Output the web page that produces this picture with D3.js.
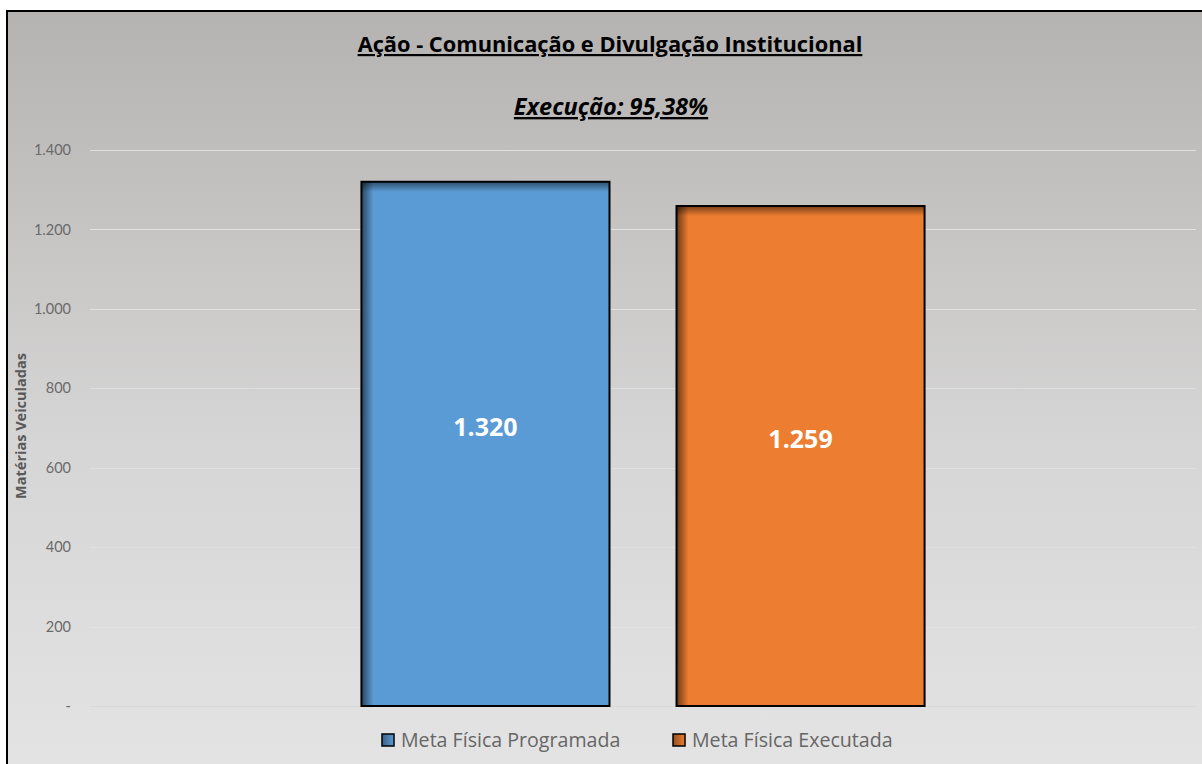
<!DOCTYPE html>
<html>
<head>
<meta charset="utf-8">
<script src="https://cdn.jsdelivr.net/npm/d3@7"></script>
<style>
  html, body { margin: 0; padding: 0; background: #ffffff; }
  svg { display: block; }
</style>
</head>
<body>
<svg id="chart" width="1202" height="764"></svg>
<script>
// Chart content
const titleText = "Ação - Comunicação e Divulgação Institucional";
const subtitleText = "Execução: 95,38%";
const axisTitle = "Matérias Veiculadas";
const category = ["Ação"];
const seriesNames = ["Meta Física Programada", "Meta Física Executada"];
const seriesValues = [1320, 1259];
const seriesColors = ["#5b9bd5", "#ed7d31"];
const tickValues = [0, 200, 400, 600, 800, 1000, 1200, 1400];

const fmt = v => v === 0 ? "-" : d3.format(",")(v).replace(/,/g, ".");

const svg = d3.select("#chart");
const defs = svg.append("defs");

// Chart area background: gray fading to light gray
const bg = defs.append("linearGradient").attr("id", "bgGrad")
  .attr("x1", 0).attr("y1", 0).attr("x2", 0).attr("y2", 1);
bg.append("stop").attr("offset", "0%").attr("stop-color", "#b4b3b1");
bg.append("stop").attr("offset", "55%").attr("stop-color", "#d6d5d5");
bg.append("stop").attr("offset", "100%").attr("stop-color", "#e4e4e4");

// Inner shading on bar edges
const shL = defs.append("linearGradient").attr("id", "shadeLeft")
  .attr("x1", 0).attr("y1", 0).attr("x2", 1).attr("y2", 0);
shL.append("stop").attr("offset", "0%").attr("stop-color", "#000").attr("stop-opacity", 0.55);
shL.append("stop").attr("offset", "100%").attr("stop-color", "#000").attr("stop-opacity", 0);
const shT = defs.append("linearGradient").attr("id", "shadeTop")
  .attr("x1", 0).attr("y1", 0).attr("x2", 0).attr("y2", 1);
shT.append("stop").attr("offset", "0%").attr("stop-color", "#000").attr("stop-opacity", 0.5);
shT.append("stop").attr("offset", "100%").attr("stop-color", "#000").attr("stop-opacity", 0);

const legGrads = seriesColors.map((c, i) => {
  const g = defs.append("linearGradient").attr("id", "leg" + i)
    .attr("x1", 0).attr("y1", 0).attr("x2", 1).attr("y2", 0);
  g.append("stop").attr("offset", "0%").attr("stop-color", d3.color(c).darker(1.3));
  g.append("stop").attr("offset", "100%").attr("stop-color", c);
  return "url(#leg" + i + ")";
});

// Frame
svg.append("rect").attr("x", 7).attr("y", 11).attr("width", 1202).attr("height", 770)
  .attr("fill", "url(#bgGrad)").attr("stroke", "#000").attr("stroke-width", 2);

const plot = { left: 90, right: 1196, top: 150, bottom: 706 };

const y = d3.scaleLinear().domain([0, 1400]).range([plot.bottom, plot.top]);
const x0 = d3.scaleBand().domain(category).range([plot.left, plot.right]).paddingInner(0).paddingOuter(0.482);
const x1 = d3.scaleBand().domain(seriesNames).range([0, x0.bandwidth()]).paddingInner(0.2127);

// Gridlines
const grid = svg.append("g");
grid.selectAll("line").data(tickValues).join("line")
  .attr("x1", plot.left).attr("x2", plot.right)
  .attr("y1", d => Math.round(y(d)) + 0.5).attr("y2", d => Math.round(y(d)) + 0.5)
  .attr("stroke", d => d === 0 ? "#d4d4d4" : "#e6e6e6")
  .attr("stroke-opacity", d => d >= 1000 ? 0.85 : 0.6)
  .attr("stroke-width", 1);

// Y axis labels
const yAxis = d3.axisLeft(y).tickValues(tickValues).tickFormat(fmt).tickSize(0).tickPadding(0);
const ya = svg.append("g").attr("transform", "translate(71,0)").call(yAxis);
ya.select(".domain").remove();
ya.selectAll("text")
  .attr("font-family", "Lato, 'Open Sans', sans-serif").attr("font-size", 14.5)
  .attr("fill", "#6a6a6a");

// Axis title
svg.append("text")
  .attr("transform", "translate(26,426) rotate(-90)")
  .attr("text-anchor", "middle")
  .attr("font-family", "'Open Sans', Lato, sans-serif").attr("font-size", 14.5)
  .attr("font-weight", "bold").attr("fill", "#595959")
  .text(axisTitle);

// Bars
const bars = svg.append("g").attr("transform", `translate(${x0(category[0])},0)`);
const g = bars.selectAll("g.bar").data(seriesNames.map((n, i) => ({ n, v: seriesValues[i], c: seriesColors[i] })))
  .join("g").attr("class", "bar");
g.append("rect")
  .attr("x", d => x1(d.n)).attr("y", d => y(d.v))
  .attr("width", x1.bandwidth()).attr("height", d => y(0) - y(d.v))
  .attr("fill", d => d.c);
g.append("rect")
  .attr("x", d => x1(d.n)).attr("y", d => y(d.v))
  .attr("width", 12).attr("height", d => y(0) - y(d.v))
  .attr("fill", "url(#shadeLeft)");
g.append("rect")
  .attr("x", d => x1(d.n)).attr("y", d => y(d.v))
  .attr("width", x1.bandwidth()).attr("height", 10)
  .attr("fill", "url(#shadeTop)");
g.append("rect")
  .attr("x", d => x1(d.n)).attr("y", d => y(d.v))
  .attr("width", x1.bandwidth()).attr("height", d => y(0) - y(d.v))
  .attr("fill", "none").attr("stroke", "#000").attr("stroke-width", 2);

// Value labels
g.append("text")
  .attr("x", d => x1(d.n) + x1.bandwidth() / 2)
  .attr("y", d => y(d.v / 2) - 17)
  .attr("dy", "0.35em")
  .attr("text-anchor", "middle")
  .attr("font-family", "'Open Sans', Lato, sans-serif").attr("font-size", 25)
  .attr("font-weight", "bold").attr("fill", "#ffffff")
  .text(d => fmt(d.v));

// Titles
svg.append("text").attr("x", 610).attr("y", 52).attr("text-anchor", "middle")
  .attr("font-family", "'Open Sans', Lato, sans-serif").attr("font-size", 21.8)
  .attr("font-weight", "bold").attr("fill", "#000")
  .attr("text-decoration", "underline")
  .text(titleText);
svg.append("text").attr("x", 611).attr("y", 115).attr("text-anchor", "middle")
  .attr("font-family", "'Open Sans', Lato, sans-serif").attr("font-size", 23.5)
  .attr("font-weight", "bold").attr("font-style", "italic").attr("fill", "#000")
  .attr("text-decoration", "underline")
  .text(subtitleText);

// Legend
const legX = [382, 673];
const leg = svg.append("g");
seriesNames.forEach((n, i) => {
  leg.append("rect").attr("x", legX[i]).attr("y", 734).attr("width", 12).attr("height", 12)
    .attr("fill", legGrads[i]).attr("stroke", "#000").attr("stroke-width", 1.5);
  leg.append("text").attr("x", legX[i] + 19).attr("y", 747)
    .attr("font-family", "'Open Sans', Lato, sans-serif").attr("font-size", 19.6)
    .attr("fill", "#666")
    .text(n);
});
</script>
</body>
</html>
